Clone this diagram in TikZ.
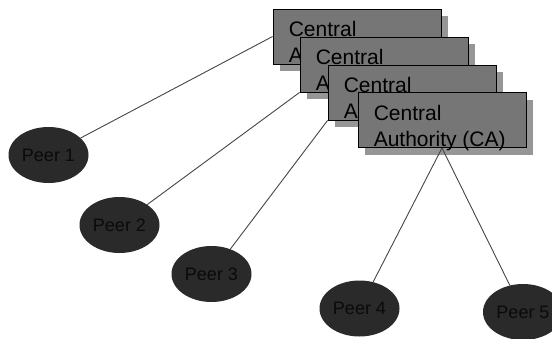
\documentclass[tikz,border=0pt]{standalone}
\usepackage{fontspec}
\setmainfont{Liberation Sans}
\usetikzlibrary{shapes.geometric,shadows}
\definecolor{cafill}{RGB}{118,118,118}
\definecolor{cashadow}{RGB}{150,150,150}
\definecolor{peerfill}{RGB}{42,42,42}
\definecolor{peertext}{RGB}{10,10,10}
\definecolor{linkgray}{RGB}{70,70,70}
\tikzset{
  cabox/.style={rectangle, draw=black, line width=0.9pt, fill=cafill,
    minimum width=168pt, minimum height=55pt, inner sep=0pt,
    drop shadow={shadow xshift=7pt, shadow yshift=-7pt, opacity=1, fill=cashadow}},
  catext/.style={anchor=base west, inner sep=0pt, align=left,
    font=\fontsize{21}{26}\selectfont, text=black},
  peer/.style={ellipse, fill=peerfill, minimum width=80pt, minimum height=56pt,
    inner sep=0pt, font=\fontsize{18}{20}\selectfont, text=peertext},
  link/.style={draw=linkgray, line width=0.9pt}
}
\begin{document}
\begin{tikzpicture}[x=1pt, y=-1pt]
  \useasboundingbox (0,0) rectangle (552,338);
  \clip (0,0) rectangle (552,338);
  \fill[white] (0,0) rectangle (552,338);

  % peers
  \node[peer] (p1) at (48.5,155) {Peer 1};
  \node[peer] (p2) at (119.5,225) {Peer 2};
  \node[peer] (p3) at (211.5,274) {Peer 3};
  \node[peer] (p4) at (359.5,308.5) {Peer 4};
  \node[peer] (p5) at (523,312) {Peer 5};

  % stacked central authority boxes, back to front
  \node[cabox] (ca1) at (357,36.5) {};
  \node[catext] (ca1t) at ([xshift=16pt,yshift=-54pt]ca1.north west) {Central\\Authority (CA)};
  \node[cabox] (ca2) at (384,64.5) {};
  \node[catext] (ca2t) at ([xshift=16pt,yshift=-54pt]ca2.north west) {Central\\Authority (CA)};
  \node[cabox] (ca3) at (412,92.5) {};
  \node[catext] (ca3t) at ([xshift=16pt,yshift=-54pt]ca3.north west) {Central\\Authority (CA)};
  \node[cabox] (ca4) at (442,120) {};
  \node[catext] (ca4t) at ([xshift=16pt,yshift=-54pt]ca4.north west) {Central\\Authority (CA)};

  % links between peers and the authority
  \draw[link] (p1) -- (ca1.west);
  \draw[link] (p2) -- (ca2.south west);
  \draw[link] (p3) -- (ca3.south west);
  \draw[link] (ca4.south) -- (p4);
  \draw[link] (ca4.south) -- (p5);
\end{tikzpicture}
\end{document}
